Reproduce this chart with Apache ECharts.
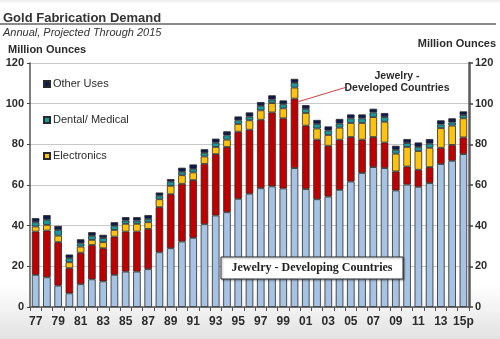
<!DOCTYPE html>
<html>
<head>
<meta charset="utf-8">
<script src="https://cdn.jsdelivr.net/npm/echarts@6/dist/echarts.min.js"></script>
<style>
  html, body { margin: 0; padding: 0; background: #fff; }
  #chart { width: 500px; height: 339px; }
</style>
</head>
<body>
<div id="chart"></div>
<script>
// Gold fabrication demand by end use, million ounces, 1977 to 2015 (projected)
const years = ['77','78','79','80','81','82','83','84','85','86','87','88','89','90','91','92','93','94','95','96','97','98','99','00','01','02','03','04','05','06','07','08','09','10','11','12','13','14','15p'];

const jewelryDeveloping = [15.8,14.6,10.5,6.7,11.2,13.6,12.6,15.8,17.4,17.4,18.6,26.9,28.9,32.2,34.0,40.7,45.0,46.6,53.2,55.7,58.4,59.3,58.3,68.3,58.0,53.0,54.3,57.6,61.7,65.9,68.8,68.3,57.3,60.2,59.1,60.9,70.3,71.9,75.2];
const jewelryDeveloped = [21.3,23.0,21.4,12.4,15.5,16.9,16.3,18.8,19.7,19.7,19.8,22.2,26.6,28.4,28.4,29.7,30.2,32.1,33.0,31.5,33.7,36.4,34.5,34.2,31.2,29.3,25.0,24.7,21.9,16.4,14.8,12.6,9.4,8.9,8.4,7.9,8.0,7.8,8.2];
const electronics = [2.5,2.8,3.2,2.9,3.0,2.5,3.0,3.3,3.8,3.8,3.3,3.9,4.1,4.2,3.8,3.6,3.5,3.6,3.8,4.6,4.6,4.6,4.9,5.4,6.2,5.5,5.3,5.9,6.9,8.2,9.8,10.2,8.7,9.6,9.2,9.5,9.7,9.5,9.4];
const dentalMedical = [2.1,2.5,2.8,2.0,1.6,2.0,2.0,2.0,1.6,1.6,1.6,1.7,2.0,1.7,1.7,1.8,2.1,2.1,1.8,1.8,2.2,1.7,2.0,2.3,2.0,2.2,2.2,2.0,2.3,2.3,2.3,2.3,1.9,1.9,2.0,2.0,1.8,1.6,1.6];
const otherUses = [2.0,2.3,2.0,1.8,2.0,1.8,1.6,1.8,1.7,1.7,1.9,1.6,1.3,2.0,2.2,1.8,2.0,2.0,1.9,2.1,1.9,2.1,1.9,2.0,1.9,2.0,2.0,2.3,1.9,1.9,1.8,2.0,2.0,2.0,2.2,2.3,2.0,2.0,1.8];

const yTicks = { min: 0, max: 120, interval: 20 };

const FONT = '"Liberation Sans", Arial, sans-serif';
const TXT = '#2b2b2b';

function barSeries(name, data, color) {
  return {
    name: name,
    type: 'bar',
    stack: 'total',
    data: data,
    barCategoryGap: '33%',
    itemStyle: { color: color, borderColor: '#2a2a2a', borderWidth: 0.8 },
    emphasis: { disabled: true },
    animation: false
  };
}

const chart = echarts.init(document.getElementById('chart'), null, { renderer: 'canvas' });

const yAxisBase = {
  type: 'value',
  min: yTicks.min,
  max: yTicks.max,
  interval: yTicks.interval,
  axisLabel: { fontFamily: FONT, fontSize: 11, fontWeight: 'bold', color: TXT, margin: 6 },
  axisTick: { show: true, length: 3, lineStyle: { color: '#444' } },
};

chart.setOption({
  backgroundColor: {
    type: 'linear', x: 0, y: 0, x2: 0, y2: 1,
    colorStops: [
      { offset: 0, color: '#ececec' },
      { offset: 0.01, color: '#ffffff' },
      { offset: 0.84, color: '#ffffff' },
      { offset: 1, color: '#e2e2e2' }
    ]
  },
  animation: false,
  title: {
    text: 'Gold Fabrication Demand',
    subtext: 'Annual, Projected Through 2015',
    left: 3, top: 12,
    itemGap: 2,
    padding: 0,
    textStyle: { fontFamily: FONT, fontSize: 13, fontWeight: 'bold', color: '#333' },
    subtextStyle: { fontFamily: FONT, fontSize: 11, fontStyle: 'italic', color: '#333' }
  },
  legend: {
    data: ['Other Uses', 'Dental/ Medical', 'Electronics'],
    orient: 'vertical',
    left: 38, top: 72,
    itemWidth: 6, itemHeight: 6,
    itemGap: 22,
    icon: 'rect',
    selectedMode: false,
    textStyle: { fontFamily: FONT, fontSize: 11, color: TXT, lineHeight: 14, padding: [0, 0, 0, -2] }
  },
  grid: { left: 30, right: 31, top: 63, bottom: 32, containLabel: false },
  xAxis: {
    type: 'category',
    data: years,
    axisLine: { lineStyle: { color: '#555', width: 1.5 } },
    axisTick: { show: true, interval: 0, length: 4, lineStyle: { color: '#555' } },
    axisLabel: { interval: 1, fontFamily: FONT, fontSize: 12, fontWeight: 'bold', color: TXT, margin: 9 }
  },
  yAxis: [
    Object.assign({}, yAxisBase, {
      position: 'left',
      axisLine: { show: true, lineStyle: { color: '#555', width: 1.5 } },
      splitLine: { show: true, lineStyle: { color: '#c8c8c8', width: 1 } }
    }),
    Object.assign({}, yAxisBase, {
      position: 'right',
      axisTick: { show: true, length: 4, lineStyle: { color: '#444', width: 1.5 } },
      axisLine: { show: true, lineStyle: { color: '#5a5a5a', width: 2.5 } },
      splitLine: { show: false }
    })
  ],
  series: [
    barSeries('Jewelry - Developing Countries', jewelryDeveloping, '#a7c3e4'),
    barSeries('Jewelry - Developed Countries', jewelryDeveloped, '#c00000'),
    barSeries('Electronics', electronics, '#fcc20e'),
    barSeries('Dental/ Medical', dentalMedical, '#1a9a9c'),
    barSeries('Other Uses', otherUses, '#0c1a4e')
  ]
});

// Leader line anchored to the developed-countries segment of the 2000 bar
const peakIdx = years.indexOf('00');
const anchor = chart.convertToPixel({ xAxisIndex: 0, yAxisIndex: 0 },
  [peakIdx, jewelryDeveloping[peakIdx] + jewelryDeveloped[peakIdx] - 1.5]);

chart.setOption({
  graphic: [
    { type: 'line', shape: { x1: 0, y1: 24, x2: 496, y2: 24 },
      style: { stroke: '#8a8a8a', lineWidth: 2 }, z: 10 },
    { type: 'text', left: 8, top: 44,
      style: { text: 'Million Ounces', font: 'bold 11px ' + FONT, fill: TXT }, z: 10 },
    { type: 'text', right: 4, top: 38,
      style: { text: 'Million Ounces', font: 'bold 11px ' + FONT, fill: TXT }, z: 10 },
    { type: 'line', shape: { x1: anchor[0] + 4, y1: anchor[1], x2: 347, y2: 87 },
      style: { stroke: '#d04040', lineWidth: 1 }, z: 10 },
    { type: 'text', x: 397, y: 70,
      style: { text: 'Jewelry -\nDeveloped Countries', font: 'bold 10.5px ' + FONT,
               fill: TXT, align: 'center', lineHeight: 12 }, z: 10 },
    { type: 'rect', shape: { x: 221, y: 257, width: 182, height: 22 },
      style: { fill: '#ffffff', stroke: '#333', lineWidth: 1,
               shadowColor: 'rgba(0,0,0,0.35)', shadowBlur: 2, shadowOffsetX: 1, shadowOffsetY: 1 }, z: 10 },
    { type: 'text', x: 312, y: 268,
      style: { text: 'Jewelry - Developing Countries', font: 'bold 12px "Liberation Serif", "Times New Roman", serif',
               fill: '#222', align: 'center', verticalAlign: 'middle' }, z: 11 }
  ]
});
</script>
</body>
</html>
